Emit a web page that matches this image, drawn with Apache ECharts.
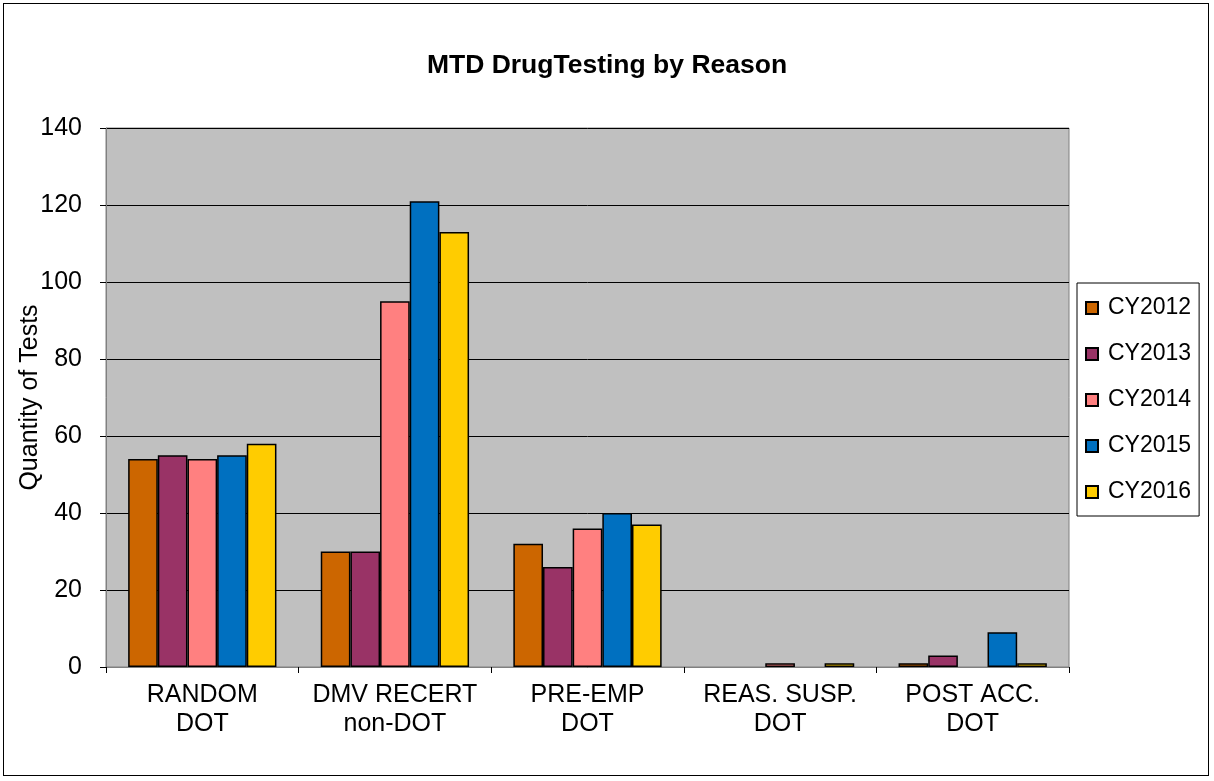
<!DOCTYPE html>
<html><head><meta charset="utf-8">
<script src="https://cdn.jsdelivr.net/npm/echarts@6/dist/echarts.min.js"></script>
<style>html,body{margin:0;padding:0;background:#fff;}#c{width:1214px;height:781px;}
#frame{position:absolute;left:3px;top:3px;width:1206px;height:773px;border:1.5px solid #000;box-sizing:border-box;pointer-events:none;}</style>
</head><body><div id="c"></div><div id="frame"></div>
<script>
const categories = ['RANDOM\nDOT', 'DMV RECERT\nnon-DOT', 'PRE-EMP\nDOT', 'REAS. SUSP.\nDOT', 'POST ACC.\nDOT'];
const seriesNames = ['CY2012', 'CY2013', 'CY2014', 'CY2015', 'CY2016'];
const cy2012 = [54, 30, 32, 0, 1];
const cy2013 = [55, 30, 26, 0, 3];
const cy2014 = [54, 95, 36, 1, 0];
const cy2015 = [55, 121, 40, 0, 9];
const cy2016 = [58, 113, 37, 1, 1];
const yTicks = [0, 20, 40, 60, 80, 100, 120, 140];
const colors = ['#CC6600', '#993366', '#FF8080', '#0070C0', '#FFCC00'];
const allData = [cy2012, cy2013, cy2014, cy2015, cy2016];

const font = 'Arial, "Liberation Sans", sans-serif';
const chart = echarts.init(document.getElementById('c'));
chart.setOption({
  animation: false,
  backgroundColor: '#fff',
  title: {text: 'MTD DrugTesting by Reason', left: 'center', top: 47,
    textStyle: {fontFamily: font, fontSize: 26.5, fontWeight: 'bold', color: '#000'}},
  legend: {
    orient: 'vertical', left: 1077, top: 283,
    padding: [13, 8, 12, 8], itemGap: 22,
    borderColor: '#000', borderWidth: 1,
    itemWidth: 12, itemHeight: 12, icon: 'rect',
    textStyle: {fontFamily: font, fontSize: 23, lineHeight: 24, color: '#000', padding: [0, 0, 0, 5]},
    data: seriesNames
  },
  grid: {left: 106, top: 128, right: 145, bottom: 114, show: true, outerBoundsMode: 'none',
    containLabel: false,
    backgroundColor: '#C0C0C0', borderColor: '#808080', borderWidth: 1},
  xAxis: {
    type: 'category', data: categories,
    axisLine: {lineStyle: {color: '#808080', width: 1}},
    axisTick: {show: true, length: 6, lineStyle: {color: '#000'}},
    axisLabel: {interval: 0, hideOverlap: false, fontFamily: font, fontSize: 25, color: '#000', lineHeight: 29, margin: 14}
  },
  yAxis: {
    type: 'value', min: 0, max: 140, interval: 20,
    name: 'Quantity of Tests', nameLocation: 'middle', nameGap: 63, nameMoveOverlap: false,
    nameTextStyle: {fontFamily: font, fontSize: 25, color: '#000'},
    axisLine: {show: true, lineStyle: {color: '#808080'}},
    axisTick: {show: true, length: 6, lineStyle: {color: '#000'}},
    axisLabel: {fontFamily: font, fontSize: 25, color: '#000', margin: 24,
      formatter: v => yTicks.includes(v) ? String(v) : ''},
    splitLine: {lineStyle: {color: '#000', width: 1}}
  },
  series: seriesNames.map((n, i) => ({
    name: n, type: 'bar', barGap: '0%', barCategoryGap: '23%',
    itemStyle: {color: colors[i], borderColor: '#000', borderWidth: 1.5},
    data: allData[i].map(v => v === 0 ? {value: v, itemStyle: {borderWidth: 0}} : v)
  }))
});
</script></body></html>
